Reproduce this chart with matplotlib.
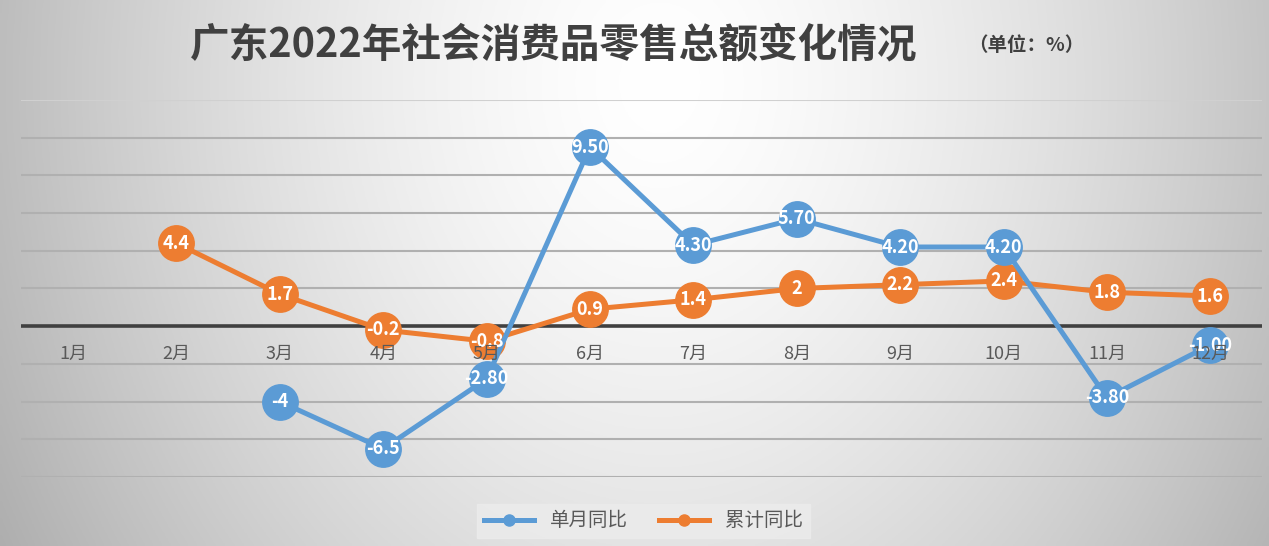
import numpy as np
import matplotlib
matplotlib.use('Agg')
import matplotlib.pyplot as plt
from matplotlib.lines import Line2D

plt.rcParams['font.family'] = ['Noto Sans CJK SC', 'DejaVu Sans']

months = ['1月', '2月', '3月', '4月', '5月', '6月',
          '7月', '8月', '9月', '10月', '11月', '12月']
# 单月同比 (1、2月无数据)
monthly = [None, None, -4, -6.5, -2.8, 9.5, 4.3, 5.7, 4.2, 4.2, -3.8, -1.0]
monthly_labels = ['', '', '-4', '-6.5', '-2.80', '9.50', '4.30', '5.70',
                  '4.20', '4.20', '-3.80', '-1.00']
# 累计同比 (1月无数据)
cumulative = [None, 4.4, 1.7, -0.2, -0.8, 0.9, 1.4, 2, 2.2, 2.4, 1.8, 1.6]
cumulative_labels = ['', '4.4', '1.7', '-0.2', '-0.8', '0.9', '1.4', '2',
                     '2.2', '2.4', '1.8', '1.6']

blue = '#5B9BD5'
orange = '#ED7D31'

fig = plt.figure(figsize=(12.69, 5.46), dpi=100)

# 背景渐变
bg = fig.add_axes([0, 0, 1, 1], zorder=-10)
xx, yy = np.meshgrid(np.linspace(0, 1, 400), np.linspace(0, 1, 200))
d = np.sqrt(((xx - 0.52) / 0.55) ** 2 + ((yy - 0.85) / 1.6) ** 2)
v = 1 - 0.28 * np.clip(d, 0, 1.2) ** 1.5
bg.imshow(np.dstack([v, v, v]), extent=[0, 1, 0, 1], aspect='auto',
          origin='lower')
bg.axis('off')

ax = fig.add_axes([0.0168, 0.1264, 0.9777, 0.6905])
ax.patch.set_alpha(0)
x = np.arange(1, 13)

ax.set_xlim(0.5, 12.5)
ax.set_ylim(-8, 12)
for g in np.arange(-8, 13, 2):
    if g == 0:
        continue
    ax.axhline(g, color='#b0b0b0' if g < 12 else '#d0d0d0', lw=1.5, zorder=1)
ax.axhline(0, color='#404040', lw=2.6, zorder=2)

mx = [i for i, v in zip(x, monthly) if v is not None]
my = [v for v in monthly if v is not None]
cx = [i for i, v in zip(x, cumulative) if v is not None]
cy = [v for v in cumulative if v is not None]

ax.plot(cx, cy, color=orange, lw=3.6, marker='o', markersize=25.5,
        solid_capstyle='round', zorder=3)
ax.plot(mx, my, color=blue, lw=3.6, marker='o', markersize=25.5,
        solid_capstyle='round', zorder=4)

for i, v, t in zip(x, cumulative, cumulative_labels):
    if v is not None:
        ax.text(i, v, t, color='white', fontsize=13, fontweight='bold',
                ha='center', va='center', zorder=6)
for i, v, t in zip(x, monthly, monthly_labels):
    if v is not None:
        ax.text(i, v, t, color='white', fontsize=13, fontweight='bold',
                ha='center', va='center', zorder=6)

for i, m in zip(x, months):
    ax.text(i, -1.45, m, color='#595959', fontsize=13, ha='center',
            va='center', zorder=7)

ax.set_xticks([])
ax.set_yticks([])
for s in ax.spines.values():
    s.set_visible(False)

fig.text(0.436, 0.917, '广东2022年社会消费品零售总额变化情况', fontsize=28.5,
         fontweight='bold', color='#404040', ha='center', va='center')
fig.text(0.809, 0.917, '（单位：%）', fontsize=14, fontweight='bold',
         color='#404040', ha='center', va='center')

handles = [Line2D([], [], color=blue, lw=3.6, marker='o', markersize=8),
           Line2D([], [], color=orange, lw=3.6, marker='o', markersize=8)]
leg = fig.legend(handles, ['单月同比', '累计同比'], loc='center',
                 bbox_to_anchor=(0.507, 0.046), ncol=2, frameon=True,
                 fontsize=14, handlelength=2.6, columnspacing=1.6,
                 borderpad=0.35, fancybox=False)
leg.get_frame().set_facecolor('#ebebeb')
leg.get_frame().set_edgecolor('#ebebeb')
leg.get_frame().set_alpha(0.9)
for t in leg.get_texts():
    t.set_color('#595959')

fig.savefig('out.png', dpi=100)
